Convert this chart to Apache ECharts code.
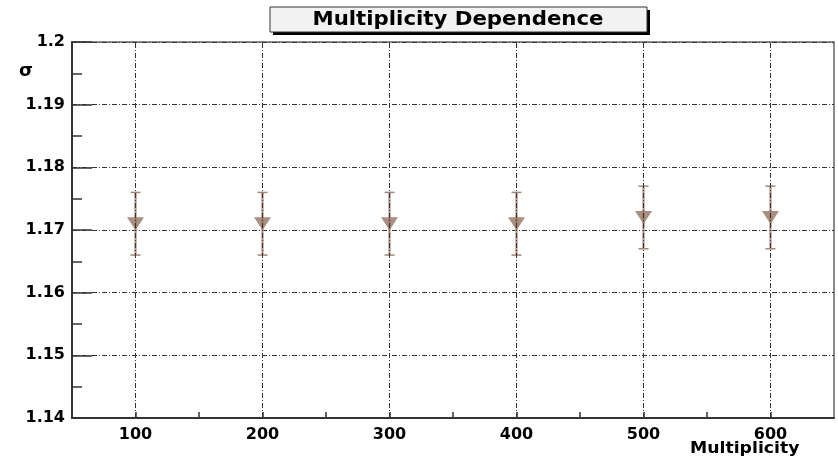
<!DOCTYPE html>
<html>
<head>
<meta charset="utf-8">
<script src="https://cdn.jsdelivr.net/npm/echarts@6/dist/echarts.min.js"></script>
<style>html,body{margin:0;padding:0;background:#fff;}#c{width:838px;height:457px;}</style>
</head>
<body>
<div id="c"></div>
<script>
// ---- data ----
var multiplicity = [100, 200, 300, 400, 500, 600];
var sigma        = [1.171, 1.171, 1.171, 1.171, 1.172, 1.172];
var sigmaErr     = [0.005, 0.005, 0.005, 0.005, 0.005, 0.005];
var xGridValues  = [100, 200, 300, 400, 500, 600];
var titleText = 'Multiplicity Dependence';
var xName = 'Multiplicity';
var yName = 'σ';

var chart = echarts.init(document.getElementById('c'), null, {renderer: 'canvas'});
var FONT = 'DejaVu Sans';
var dashDot = [5, 2, 1, 2];

var errData = multiplicity.map(function (x, i) {
  return [x, sigma[i] - sigmaErr[i], sigma[i] + sigmaErr[i]];
});
var pts = multiplicity.map(function (x, i) { return [x, sigma[i]]; });

var option = {
  animation: false,
  backgroundColor: '#fff',
  grid: {left: 72, right: 4, top: 42, bottom: 39, containLabel: false, outerBoundsMode: 'none',
         show: true, borderColor: '#666', borderWidth: 1.5, backgroundColor: 'transparent'},
  graphic: [
    {type: 'rect', shape: {x: 273, y: 10, width: 377, height: 25}, style: {fill: '#000'}, silent: true},
    {type: 'rect', shape: {x: 270, y: 7, width: 377, height: 25}, style: {fill: '#f2f2f2', stroke: '#333', lineWidth: 1}, silent: true},
    {type: 'text', x: 458, y: 20, scaleX: 1.12, style: {text: titleText, fill: '#000', font: 'bold 19px "DejaVu Sans"', align: 'center', verticalAlign: 'middle'}, silent: true},
    {type: 'text', x: 690, y: 441, scaleX: 1.08, style: {text: xName, fill: '#000', font: 'bold 16px "DejaVu Sans"', align: 'left', verticalAlign: 'top'}, silent: true}
  ],
  xAxis: {
    type: 'value', min: 50, max: 650, interval: 50,
    axisLine: {show: true, onZero: false, lineStyle: {color: '#333', width: 2}},
    axisTick: {show: true, inside: true, length: 6, lineStyle: {color: '#333', width: 1.5}},
    axisLabel: {
      show: true, margin: 9, fontFamily: FONT, fontWeight: 'bold', fontSize: 16, color: '#000',
      showMinLabel: false, showMaxLabel: false,
      formatter: function (v) { return (Math.round(v) % 100 === 0) ? String(Math.round(v)) : ''; }
    },
    splitLine: {show: false}
  },
  yAxis: {
    type: 'value', min: 1.14, max: 1.2, interval: 0.01,
    name: yName, nameLocation: 'end', nameGap: -29,
    nameTextStyle: {fontFamily: FONT, fontWeight: 'bold', fontSize: 18, color: '#000', align: 'right', verticalAlign: 'middle', padding: [0, 39, 0, 0]},
    axisLine: {show: true, onZero: false, lineStyle: {color: '#333', width: 2}},
    axisTick: {show: true, inside: true, length: 20, lineStyle: {color: '#333', width: 1.5}},
    minorTick: {show: true, splitNumber: 2, length: 10, lineStyle: {color: '#333', width: 1.5}},
    axisLabel: {
      show: true, margin: 7, fontFamily: FONT, fontWeight: 'bold', fontSize: 16, color: '#000',
      formatter: function (v) { return String(parseFloat(v.toFixed(3))); }
    },
    splitLine: {show: true, lineStyle: {color: '#333', width: 1, type: dashDot}}
  },
  series: [
    {
      type: 'line', data: [], silent: true,
      markLine: {
        silent: true, symbol: ['none', 'none'], label: {show: false},
        lineStyle: {color: '#333', width: 1, type: dashDot},
        emphasis: {disabled: true},
        data: xGridValues.map(function (x) { return {xAxis: x}; })
      }
    },
    {
      type: 'custom', silent: true, data: errData, z: 3,
      renderItem: function (params, api) {
        var x = api.value(0);
        var lo = api.coord([x, api.value(1)]);
        var hi = api.coord([x, api.value(2)]);
        var hw = 5;
        return {
          type: 'group',
          children: [
            {type: 'line', shape: {x1: lo[0], y1: lo[1], x2: hi[0], y2: hi[1]}, style: {stroke: '#bba096', lineWidth: 2.5}},
            {type: 'line', shape: {x1: lo[0] - hw, y1: lo[1], x2: lo[0] + hw, y2: lo[1]}, style: {stroke: '#a88474', lineWidth: 1.5}},
            {type: 'line', shape: {x1: hi[0] - hw, y1: hi[1], x2: hi[0] + hw, y2: hi[1]}, style: {stroke: '#a88474', lineWidth: 1.5}}
          ]
        };
      }
    },
    {
      type: 'scatter', silent: true, data: pts, z: 4,
      symbol: 'triangle', symbolRotate: 180, symbolSize: [17, 13],
      itemStyle: {color: '#957262'}
    }
  ]
};
chart.setOption(option);
</script>
</body>
</html>
